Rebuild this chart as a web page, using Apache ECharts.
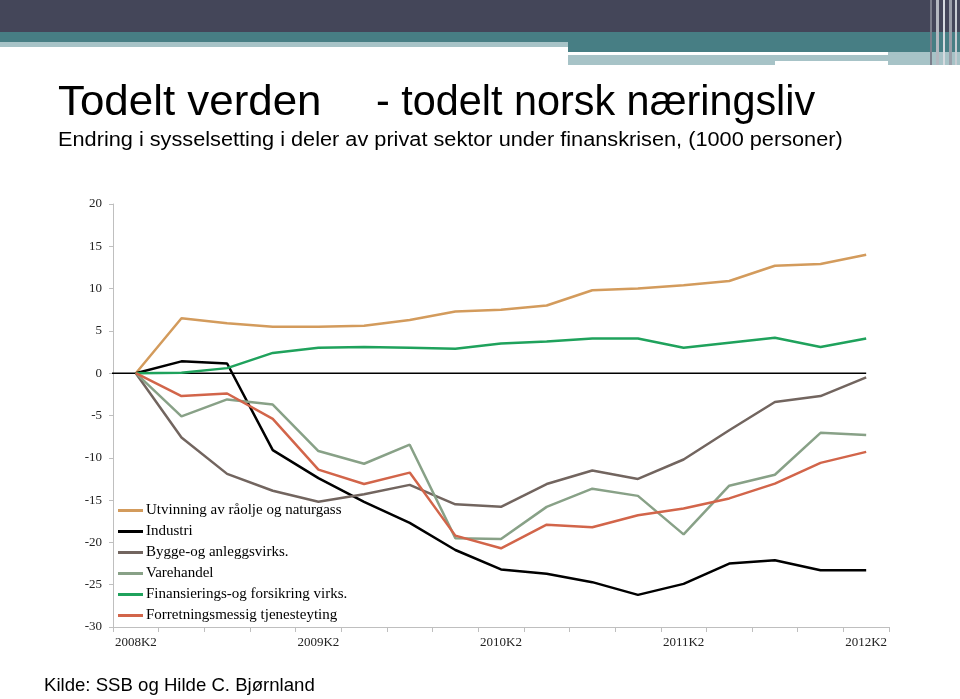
<!DOCTYPE html>
<html>
<head>
<meta charset="utf-8">
<script src="https://cdn.jsdelivr.net/npm/echarts@6/dist/echarts.min.js"></script>
<style>html,body{margin:0;padding:0;background:#fff;}#c{width:960px;height:699px;}</style>
</head>
<body>
<div id="c"></div>
<script>
const categories = ['2008K2','2008K3','2008K4','2009K1','2009K2','2009K3','2009K4','2010K1','2010K2','2010K3','2010K4','2011K1','2011K2','2011K3','2011K4','2012K1','2012K2'];
const seriesNames = ['Utvinning av råolje og naturgass','Industri','Bygge-og anleggsvirks.','Varehandel','Finansierings-og forsikring virks.','Forretningsmessig tjenesteyting'];
const utvinning = [0, 6.5, 5.9, 5.5, 5.5, 5.6, 6.3, 7.3, 7.5, 8.0, 9.8, 10.0, 10.4, 10.9, 12.7, 12.9, 14.0];
const industri = [0, 1.4, 1.15, -9.1, -12.4, -15.2, -17.7, -20.9, -23.2, -23.7, -24.7, -26.2, -24.9, -22.5, -22.1, -23.3, -23.3];
const bygge = [0, -7.6, -11.9, -13.9, -15.2, -14.3, -13.2, -15.5, -15.8, -13.1, -11.5, -12.5, -10.2, -6.75, -3.4, -2.7, -0.5];
const varehandel = [0, -5.1, -3.1, -3.7, -9.2, -10.7, -8.45, -19.5, -19.6, -15.8, -13.65, -14.5, -19.05, -13.3, -12.0, -7.05, -7.3];
const finans = [0, 0.05, 0.6, 2.4, 3.0, 3.1, 3.0, 2.9, 3.5, 3.75, 4.1, 4.1, 3.0, 3.6, 4.2, 3.1, 4.1];
const forretning = [0, -2.7, -2.4, -5.4, -11.4, -13.1, -11.75, -19.2, -20.7, -17.9, -18.2, -16.8, -16.0, -14.8, -13.05, -10.6, -9.3];
const zeroLine = [[-0.57, 0], [16, 0]];
const yTicks = {min: -30, max: 20, interval: 5};
const titleMain = 'Todelt verden';
const titleRest = '- todelt norsk næringsliv';
const subtitle = 'Endring i sysselsetting i deler av privat sektor under finanskrisen, (1000 personer)';
const source = 'Kilde: SSB og Hilde C. Bjørnland';

const colors = ['#D39B5C', '#000000', '#72655F', '#88A187', '#1FA25C', '#D2654A'];
const values = [utvinning, industri, bygge, varehandel, finans, forretning];

const chart = echarts.init(document.getElementById('c'));
const serif = '"Liberation Serif", "DejaVu Serif", serif';
const sans = '"Liberation Sans", Arial, sans-serif';

const series = [{
  name: 'zero',
  type: 'line',
  xAxisIndex: 1,
  data: zeroLine,
  symbol: 'none',
  clip: false,
  silent: true,
  lineStyle: {color: '#000', width: 1.5},
  z: 2
}].concat(values.map((d, i) => ({
  name: seriesNames[i],
  type: 'line',
  data: d,
  symbol: 'none',
  smooth: false,
  lineStyle: {width: 2.5, color: colors[i]},
  itemStyle: {color: colors[i]},
  z: 3
})));

chart.setOption({
  animation: false,
  backgroundColor: '#fff',
  grid: {left: 113, right: 71, top: 204, bottom: 72, containLabel: false},
  xAxis: [{
    type: 'category',
    data: categories,
    boundaryGap: true,
    axisLine: {onZero: false, lineStyle: {color: '#BFBFBF', width: 1}},
    axisTick: {show: true, interval: 0, length: 5, lineStyle: {color: '#BFBFBF'}},
    axisLabel: {interval: 3, margin: 9, fontFamily: serif, fontSize: 13, color: '#222'},
    splitLine: {show: false}
  }, {
    type: 'value',
    min: -0.5, max: categories.length - 0.5,
    show: false
  }],
  yAxis: {
    type: 'value',
    min: yTicks.min, max: yTicks.max, interval: yTicks.interval,
    axisLine: {show: true, onZero: false, lineStyle: {color: '#BFBFBF', width: 1}},
    axisTick: {show: true, length: 4, lineStyle: {color: '#BFBFBF'}},
    axisLabel: {margin: 11, fontFamily: serif, fontSize: 13, color: '#222'},
    splitLine: {show: false}
  },
  legend: {
    orient: 'vertical',
    left: 118,
    top: 502,
    padding: 0,
    icon: 'rect',
    itemWidth: 25,
    itemHeight: 3,
    itemGap: 4,
    textStyle: {fontFamily: serif, fontSize: 15, color: '#000', padding: [0,0,0,-2], lineHeight: 17},
    data: seriesNames.map((n, i) => ({name: n, itemStyle: {color: colors[i]}}))
  },
  series: series,
  graphic: [
    {type: 'rect', shape: {x: 0, y: 0, width: 960, height: 32}, style: {fill: '#444659'}, silent: true},
    {type: 'rect', shape: {x: 0, y: 32, width: 960, height: 10}, style: {fill: '#477E84'}, silent: true},
    {type: 'rect', shape: {x: 0, y: 42, width: 568, height: 5}, style: {fill: '#A7C3C7'}, silent: true},
    {type: 'rect', shape: {x: 568, y: 42, width: 392, height: 10}, style: {fill: '#477E84'}, silent: true},
    {type: 'rect', shape: {x: 568, y: 55, width: 207, height: 10}, style: {fill: '#A7C3C7'}, silent: true},
    {type: 'rect', shape: {x: 775, y: 55, width: 113, height: 6}, style: {fill: '#A7C3C7'}, silent: true},
    {type: 'rect', shape: {x: 888, y: 52, width: 72, height: 13}, style: {fill: '#A7C3C7'}, silent: true},
    {type: 'rect', shape: {x: 930, y: 0, width: 2, height: 65}, style: {fill: '#7C7F8C'}, silent: true},
    {type: 'rect', shape: {x: 936, y: 0, width: 3, height: 65}, style: {fill: '#B4B8C0'}, silent: true},
    {type: 'rect', shape: {x: 943, y: 0, width: 2, height: 65}, style: {fill: '#D6DADF'}, silent: true},
    {type: 'rect', shape: {x: 949, y: 0, width: 3, height: 65}, style: {fill: '#9A9EA8'}, silent: true},
    {type: 'rect', shape: {x: 955, y: 0, width: 2, height: 65}, style: {fill: '#C8CCD2'}, silent: true},
    {type: 'text', x: 58, y: 82, scaleX: 1.045, style: {text: titleMain, font: '42px ' + sans, fill: '#000'}},
    {type: 'text', x: 376, y: 82, scaleX: 0.985, style: {text: titleRest, font: '42px ' + sans, fill: '#000'}},
    {type: 'text', x: 58, y: 130, scaleX: 1.086, style: {text: subtitle, font: '20px ' + sans, fill: '#000'}},
    {type: 'text', left: 44, top: 676, style: {text: source, font: '18.6px ' + sans, fill: '#000'}}
  ]
});
</script>
</body>
</html>
